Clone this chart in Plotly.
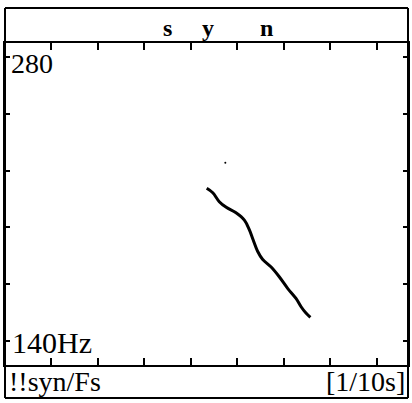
import plotly.graph_objects as go

# pitch track (time in 1/10 s, F0 in Hz)
t = [4.34, 4.47, 4.61, 4.76, 4.97, 5.15, 5.26, 5.34, 5.44, 5.54, 5.72, 5.90, 6.08, 6.26, 6.37, 6.47, 6.57]
f0 = [215.3, 213.1, 208.7, 205.9, 203.2, 199.6, 194.7, 189.8, 184.0, 180.3, 176.6, 171.7, 166.0, 161.0, 156.9, 153.9, 151.7]

# stray point
dot_t = [4.74]
dot_f0 = [227.9]

# segment labels
seg_labels = ["s", "y", "n"]
seg_pos = [3.5, 4.36, 5.62]

ytick_vals = [140, 168, 196, 224, 252, 280]
xtick_vals = [1, 2, 3, 4, 5, 6, 7, 8]

serif = "Liberation Serif, Times New Roman, serif"

fig = go.Figure()
fig.add_trace(go.Scatter(x=t, y=f0, mode="lines",
                         line=dict(color="black", width=3, shape="spline"),
                         showlegend=False, hoverinfo="skip"))
fig.add_trace(go.Scatter(x=dot_t, y=dot_f0, mode="markers",
                         marker=dict(color="black", size=2),
                         showlegend=False, hoverinfo="skip"))

fig.update_xaxes(range=[0, 8.67], tickvals=xtick_vals, ticks="inside", ticklen=7,
                 tickwidth=2, tickcolor="black", showticklabels=False,
                 showgrid=False, zeroline=False, showline=True, linecolor="black",
                 linewidth=2, mirror="ticks")
fig.update_yaxes(range=[128.2, 286.9], tickvals=ytick_vals, ticks="inside", ticklen=5,
                 tickwidth=2, tickcolor="black", showticklabels=False,
                 showgrid=False, zeroline=False, showline=True, linecolor="black",
                 linewidth=2, mirror="ticks")

# outer frame with the top / bottom label bands
top_y = 1 + 35 / 322
bot_y = -33 / 322
for x0, y0, x1, y1 in [(0, top_y, 1, top_y), (0, bot_y, 1, bot_y),
                       (0, bot_y, 0, top_y), (1, bot_y, 1, top_y)]:
    fig.add_shape(type="line", xref="paper", yref="paper", x0=x0, y0=y0, x1=x1, y1=y1,
                  line=dict(color="black", width=2))

for lab, xp in zip(seg_labels, seg_pos):
    fig.add_annotation(x=xp, y=1.047, xref="x", yref="paper", text="<b>%s</b>" % lab,
                       showarrow=False, font=dict(family=serif, size=24, color="black"),
                       xanchor="center", yanchor="middle")

fig.add_annotation(x=0.01, y=0.935, xref="paper", yref="paper", text="280",
                   showarrow=False, font=dict(family=serif, size=28, color="black"),
                   xanchor="left", yanchor="middle")
fig.add_annotation(x=0.013, y=0.07, xref="paper", yref="paper", text="140Hz",
                   showarrow=False, font=dict(family=serif, size=30, color="black"),
                   xanchor="left", yanchor="middle")
fig.add_annotation(x=0.006, y=-0.05, xref="paper", yref="paper", text="!!syn/Fs",
                   showarrow=False, font=dict(family=serif, size=28, color="black"),
                   xanchor="left", yanchor="middle")
fig.add_annotation(x=0.997, y=-0.05, xref="paper", yref="paper", text="[1/10s]",
                   showarrow=False, font=dict(family=serif, size=28, color="black"),
                   xanchor="right", yanchor="middle")

fig.update_layout(width=412, height=403,
                  margin=dict(l=5, r=2, t=43, b=38),
                  paper_bgcolor="white", plot_bgcolor="white")

fig.write_html("out.html", config={"displayModeBar": False},
               post_script="document.body.style.margin='0';")
